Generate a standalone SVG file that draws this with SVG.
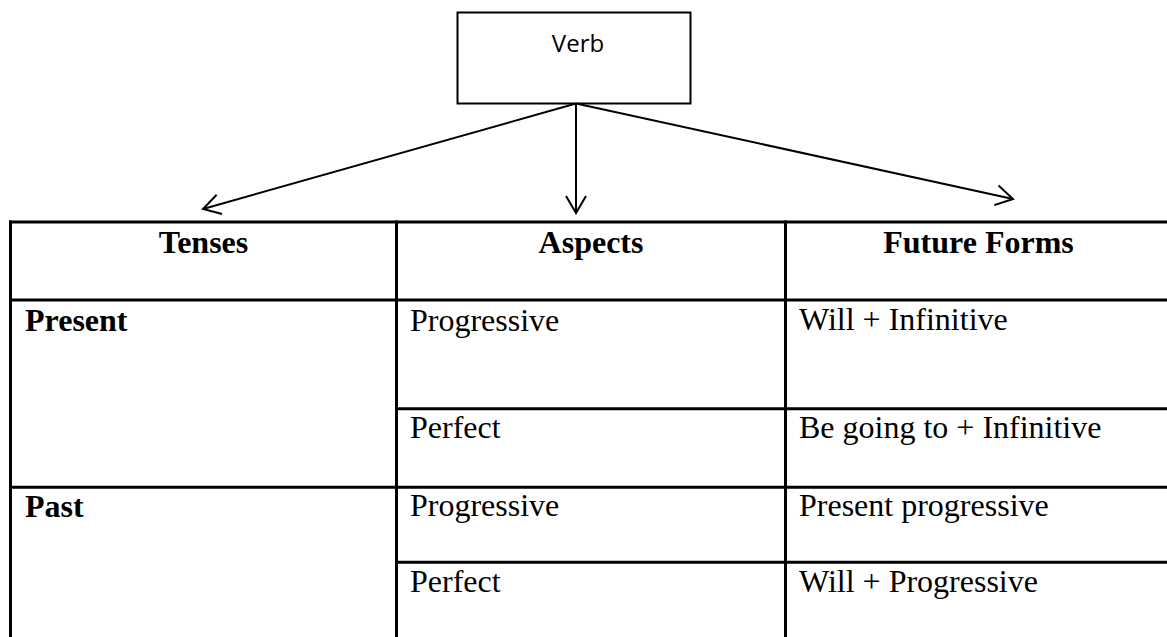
<svg xmlns="http://www.w3.org/2000/svg" width="1167" height="637" viewBox="0 0 1167 637">
  <style>
    .box { fill: #fff; stroke: #000; stroke-width: 2; }
    .conn { stroke: #000; stroke-width: 2; fill: none; }
    .grid { stroke: #000; stroke-width: 3; fill: none; }
    .hd { font-family: "Liberation Serif", "Times New Roman", serif; font-size: 32px; font-weight: bold; fill: #000; }
    .bd { font-family: "Liberation Serif", "Times New Roman", serif; font-size: 32px; fill: #000; }
    .vb { font-family: "Open Sans", "Noto Sans", sans-serif; font-size: 24px; fill: #000; }
  </style>
  <defs>
    <marker id="open" markerUnits="userSpaceOnUse" markerWidth="24" markerHeight="24" viewBox="-20 -12 24 24" refX="0" refY="0" orient="auto">
      <path d="M-17,-10 L0,0 L-17,10" fill="none" stroke="#000" stroke-width="2"/>
    </marker>
  </defs>
  <rect width="1167" height="637" fill="#fff"/>

  <g id="verb">
    <rect class="box" x="457.5" y="12.5" width="233" height="91"/>
    <text class="vb" x="578" y="52" text-anchor="middle">Verb</text>
  </g>

  <g id="connectors">
    <line class="conn" x1="576" y1="103.5" x2="203" y2="209" marker-end="url(#open)"/>
    <line class="conn" x1="576" y1="103.5" x2="576" y2="213" marker-end="url(#open)"/>
    <line class="conn" x1="576" y1="103.5" x2="1013" y2="199" marker-end="url(#open)"/>
  </g>

  <g id="table">
    <g id="grid">
      <line class="grid" x1="9" y1="222" x2="1167" y2="222"/>
      <line class="grid" x1="9" y1="300" x2="1167" y2="300"/>
      <line class="grid" x1="396.5" y1="408.7" x2="1167" y2="408.7"/>
      <line class="grid" x1="9" y1="487.3" x2="1167" y2="487.3"/>
      <line class="grid" x1="396.5" y1="562.3" x2="1167" y2="562.3"/>
      <line class="grid" x1="10.5" y1="220.5" x2="10.5" y2="637"/>
      <line class="grid" x1="396.5" y1="220.5" x2="396.5" y2="637"/>
      <line class="grid" x1="785.5" y1="220.5" x2="785.5" y2="637"/>
    </g>
    <g id="header-tenses"><text class="hd" x="203.5" y="253" text-anchor="middle">Tenses</text></g>
    <g id="header-aspects"><text class="hd" x="591" y="253" text-anchor="middle">Aspects</text></g>
    <g id="header-future"><text class="hd" x="978.5" y="253" text-anchor="middle">Future Forms</text></g>

    <g id="tense-present"><text class="hd" x="25" y="331">Present</text></g>
    <g id="aspect-present-progressive"><text class="bd" x="410" y="331">Progressive</text></g>
    <g id="future-will-inf"><text class="bd" x="799" y="330">Will + Infinitive</text></g>
    <g id="aspect-present-perfect"><text class="bd" x="410" y="438">Perfect</text></g>
    <g id="future-going-to"><text class="bd" x="799" y="438">Be going to + Infinitive</text></g>

    <g id="tense-past"><text class="hd" x="25" y="517">Past</text></g>
    <g id="aspect-past-progressive"><text class="bd" x="410" y="516">Progressive</text></g>
    <g id="future-present-prog"><text class="bd" x="799" y="516">Present progressive</text></g>
    <g id="aspect-past-perfect"><text class="bd" x="410" y="592">Perfect</text></g>
    <g id="future-will-prog"><text class="bd" x="799" y="592">Will + Progressive</text></g>
  </g>
</svg>
